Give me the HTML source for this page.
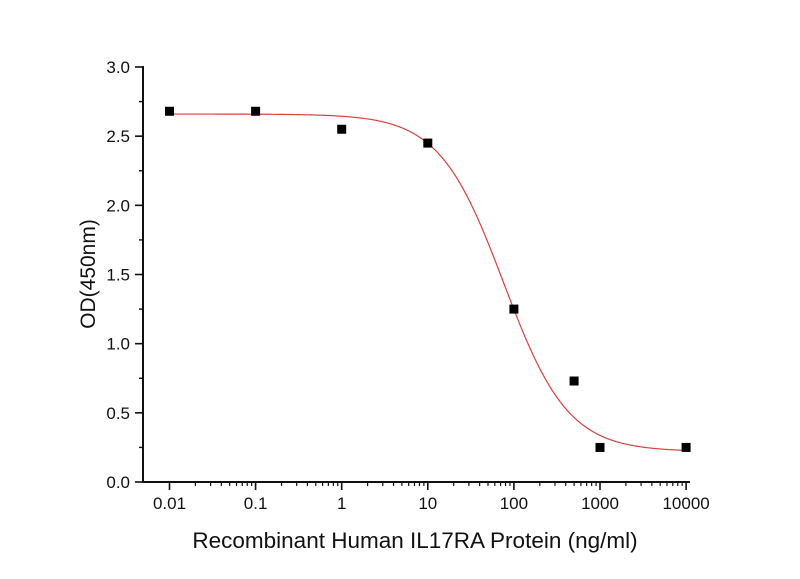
<!DOCTYPE html>
<html><head><meta charset="utf-8"><style>
html,body{margin:0;padding:0;background:#fff;}
svg{display:block;}
text{font-family:"Liberation Sans",Arial,sans-serif;fill:#111;}
</style></head><body>
<svg id="s" width="800" height="579" viewBox="0 0 800 579" xmlns="http://www.w3.org/2000/svg">
<g id="g"></g>
<text x="415" y="548" font-size="22.5" text-anchor="middle">Recombinant Human IL17RA Protein (ng/ml)</text>
<text transform="translate(95,274) rotate(-90)" font-size="21" text-anchor="middle">OD(450nm)</text>
</svg>
<script>
var g=document.getElementById('g'),NS='http://www.w3.org/2000/svg';
function el(t,a){var e=document.createElementNS(NS,t);for(var k in a)e.setAttribute(k,a[k]);g.appendChild(e);return e;}
var X0=169.5,D=86.1,Y0=482,S=138.33;
function px(v){return X0+(Math.log10(v)+2)*D;}
function py(v){return Y0-v*S;}
el('line',{x1:143,y1:66,x2:143,y2:483,stroke:'#111','stroke-width':2});
el('line',{x1:142,y1:482,x2:690,y2:482,stroke:'#111','stroke-width':2});
for(var i=0;i<=6;i++){var v=i*0.5,y=py(v);
 el('line',{x1:135,y1:y,x2:143,y2:y,stroke:'#111','stroke-width':1.6});
 var t=el('text',{x:130,y:y+6,'font-size':17,'text-anchor':'end'});t.textContent=v.toFixed(1);
 if(i<6){var ym=py(v+0.25);el('line',{x1:139,y1:ym,x2:143,y2:ym,stroke:'#111','stroke-width':1.4});}
}
var labs=['0.01','0.1','1','10','100','1000','10000'];
for(var d=0;d<7;d++){var x=X0+d*D;
 el('line',{x1:x,y1:482,x2:x,y2:490,stroke:'#111','stroke-width':1.6});
 var t=el('text',{x:x,y:509,'font-size':17,'text-anchor':'middle'});t.textContent=labs[d];
 if(d<6){for(var m=2;m<10;m++){var xm=x+Math.log10(m)*D;el('line',{x1:xm,y1:482,x2:xm,y2:486,stroke:'#111','stroke-width':1.2});}}
}
var TOPV=2.66,BOTV=0.22,E=76,H=1.16,p='';
for(var k=0;k<=600;k++){var lx=-2+k*6/600,vv=Math.pow(10,lx);var yy=BOTV+(TOPV-BOTV)/(1+Math.pow(vv/E,H));p+=(k?'L':'M')+px(vv).toFixed(2)+','+py(yy).toFixed(2);}
el('path',{d:p,fill:'none',stroke:'#d9413d','stroke-width':1.2});
var pts=[[0.01,2.68],[0.1,2.68],[1,2.55],[10,2.45],[100,1.25],[500,0.73],[1000,0.25],[10000,0.25]];
pts.forEach(function(q){el('rect',{x:px(q[0])-4.5,y:py(q[1])-4.5,width:9,height:9,fill:'#000'});});
</script>
</body></html>
